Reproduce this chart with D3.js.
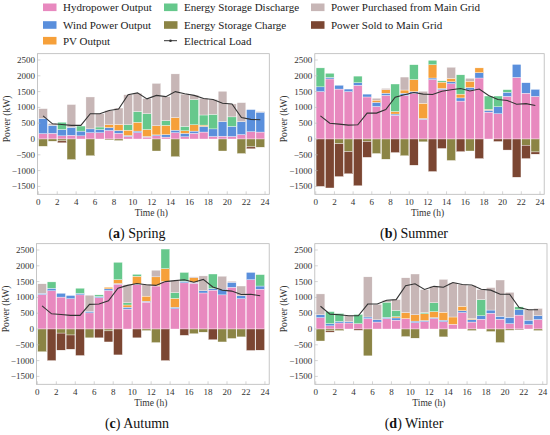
<!DOCTYPE html>
<html><head><meta charset="utf-8">
<script src="https://cdn.jsdelivr.net/npm/d3@7"></script>
<style>body{margin:0;background:#fff}svg{display:block}text{font-family:"Liberation Serif","Times New Roman",serif}</style>
</head><body>
<svg id="c" width="550" height="435"></svg>
<script>
const hours = d3.range(24);
const xTicks = d3.range(0, 25, 2);
const yTicks = [-1500, -1000, -500, 0, 500, 1000, 1500, 2000, 2500];
const seriesNames = ["Hydropower Output","Wind Power Output","PV Output","Energy Storage Discharge","Energy Storage Charge","Electrical Load","Power Purchased from Main Grid","Power Sold to Main Grid"];

// Spring
const springHydro = [170,180,100,120,100,200,200,270,180,80,200,60,100,60,200,70,180,220,80,90,80,140,230,220];
const springWind  = [480,250,200,250,150,120,100,90,90,30,50,20,30,80,80,110,70,180,240,460,320,410,700,630];
const springPV    = [0,0,0,0,0,0,0,90,190,170,280,220,290,290,400,80,200,40,0,0,0,0,0,0];
const springDis   = [0,0,230,0,160,0,80,0,0,170,340,500,0,150,0,140,800,320,460,0,300,0,0,0];
const springBuy   = [310,60,0,720,0,1010,420,450,520,950,580,480,1340,760,1380,1020,140,530,470,960,410,600,0,20];
const springCharge= [-230,-70,-60,-650,0,-530,0,-30,-50,0,0,0,-380,0,-560,0,0,0,0,-380,0,-460,-250,-260];
const springSold  = [0,0,-60,0,0,0,0,0,0,0,0,0,0,0,0,0,0,0,0,0,0,0,-60,0];
const springLoad  = [730,480,460,430,430,800,800,900,950,1400,1460,1270,1380,1340,1500,1430,1380,1280,1250,1130,1110,680,620,610];

// Summer
const summerHydro = [1500,1900,1580,1500,1700,1330,1030,1380,750,1380,1450,620,1880,1560,1750,1200,1550,1930,850,800,1350,1950,1450,1350];
const summerWind  = [150,50,120,80,80,90,130,70,40,70,50,30,50,40,60,100,80,170,60,220,130,410,330,220];
const summerPV    = [0,0,0,0,0,0,70,110,80,100,380,480,420,200,110,120,200,150,30,0,0,0,0,0];
const summerDis   = [600,130,0,0,210,0,0,0,870,0,470,0,140,40,0,610,0,0,420,340,80,0,0,0];
const summerBuy   = [0,0,0,0,0,0,60,40,0,410,0,380,0,0,350,0,90,0,0,0,0,0,0,0];
const summerCharge= [0,0,-150,-400,0,-80,-460,-640,0,-530,0,-90,0,0,-680,0,-380,0,0,0,0,0,-200,-410];
const summerSold  = [-1500,-1550,-1040,-700,-1480,-500,0,0,-430,0,-830,0,-1030,-300,0,-400,0,-620,0,-80,-350,-1210,-420,-70];
const summerLoad  = [730,500,470,440,450,820,820,930,1320,1400,1470,1420,1410,1510,1560,1600,1520,1580,1380,1250,1220,1100,1120,1060];

// Autumn
const autumnHydro = [1090,1210,1010,960,1080,510,990,1220,1420,630,1400,850,1360,1490,640,1460,1450,1140,1230,1080,1320,960,1560,1260];
const autumnWind  = [40,80,120,100,50,50,40,50,20,60,20,30,10,10,50,50,30,70,50,180,160,90,230,100];
const autumnPV    = [0,0,0,0,0,0,0,50,120,70,250,160,280,410,280,0,140,0,0,0,0,0,0,0];
const autumnDis   = [0,200,0,0,160,0,50,0,550,70,60,0,0,620,180,280,0,0,460,0,0,0,0,360];
const autumnBuy   = [300,0,0,0,0,510,0,0,0,570,0,380,210,0,380,0,30,470,0,410,30,310,0,0];
const autumnCharge= [-720,0,-130,-190,0,-280,0,-60,0,0,0,-50,-430,0,0,0,-150,-100,0,-410,-300,-250,0,0];
const autumnSold  = [0,-1000,-540,-450,-840,0,-280,-350,-820,0,-280,0,0,-1000,0,-200,0,0,-340,0,0,0,-680,-670];
const autumnLoad  = [730,480,460,430,430,780,790,890,1290,1380,1440,1400,1380,1500,1530,1560,1480,1570,1330,1230,1200,1090,1100,1050];

// Winter
const winterHydro = [360,100,190,190,170,330,220,330,280,330,200,230,330,230,150,520,220,310,500,310,170,440,140,300];
const winterWind  = [90,70,50,40,0,50,70,40,70,0,50,40,30,50,0,60,80,110,100,90,200,170,140,120];
const winterPV    = [0,0,0,0,0,0,0,0,40,190,200,210,190,250,230,140,30,0,0,0,0,0,0,0];
const winterDis   = [0,380,250,0,290,0,0,480,200,0,0,40,280,0,0,0,0,510,0,0,0,90,0,0];
const winterBuy   = [660,0,0,190,0,1270,490,60,340,1100,1290,730,520,1040,1080,690,1050,320,710,1150,790,0,330,230];
const winterCharge= [-380,-60,-50,0,0,-850,0,0,0,-240,-290,0,0,-250,0,0,-50,0,-80,-430,-40,0,0,-50];
const winterSold  = [0,-40,0,0,-40,0,0,0,0,0,0,0,0,0,0,0,0,0,0,0,0,-20,0,0];
const winterLoad  = [720,470,450,420,420,790,790,910,930,1370,1430,1250,1350,1320,1470,1410,1390,1260,1230,1100,1100,680,610,610];

const colors = {hydro:"#e889bf", wind:"#5a8fdc", pv:"#f6a03a", dis:"#66c88c", charge:"#8b8445", buy:"#c7b6b6", sold:"#7b4632", load:"#333333"};
const keys = ["hydro","wind","pv","dis","buy","charge","sold"];

const panels = [
  {cap:"a", name:"Spring", d:[springHydro,springWind,springPV,springDis,springBuy,springCharge,springSold], load:springLoad, xl:37.4, xr:269.3, y0:139, capX:137},
  {cap:"b", name:"Summer", d:[summerHydro,summerWind,summerPV,summerDis,summerBuy,summerCharge,summerSold], load:summerLoad, xl:314.8, xr:544.2, y0:139, capX:414},
  {cap:"c", name:"Autumn", d:[autumnHydro,autumnWind,autumnPV,autumnDis,autumnBuy,autumnCharge,autumnSold], load:autumnLoad, xl:36.4, xr:269.2, y0:329, capX:137},
  {cap:"d", name:"Winter", d:[winterHydro,winterWind,winterPV,winterDis,winterBuy,winterCharge,winterSold], load:winterLoad, xl:314.8, xr:547, y0:329, capX:414}
];

const svg = d3.select("#c");
const pxPerK = 31.6;

panels.forEach(p => {
  const x = d3.scaleLinear().domain([-0.1, 24.45]).range([p.xl, p.xr]);
  const top = p.y0 - 2.7 * pxPerK, bot = p.y0 + 1.75 * pxPerK;
  const y = d3.scaleLinear().domain([-1750, 2700]).range([bot, top]);
  const g = svg.append("g");
  const rows = hours.map(h => { const o = {h}; keys.forEach((k, i) => o[k] = p.d[i][h]); return o; });
  const stack = d3.stack().keys(keys).offset(d3.stackOffsetDiverging)(rows);
  const bw = x(1) - x(0);
  stack.forEach(layer => {
    g.append("g").selectAll("rect").data(layer.filter(s => s[1] !== s[0])).join("rect")
      .attr("x", s => x(s.data.h) + 0.35)
      .attr("width", bw - 0.7)
      .attr("y", s => y(Math.max(s[0], s[1])))
      .attr("height", s => Math.abs(y(s[0]) - y(s[1])))
      .attr("fill", colors[layer.key])
      .attr("stroke", "#fff").attr("stroke-width", 0.35);
  });
  g.append("rect").attr("x", p.xl).attr("y", top).attr("width", p.xr - p.xl).attr("height", bot - top)
    .attr("fill", "none").attr("stroke", "#b8b8b8").attr("stroke-width", 0.8);
  yTicks.forEach(t => {
    g.append("line").attr("x1", p.xl).attr("x2", p.xl + 3).attr("y1", y(t)).attr("y2", y(t)).attr("stroke", "#b8b8b8").attr("stroke-width", 0.6);
    g.append("text").attr("x", p.xl - 2.5).attr("y", y(t) + 3).attr("text-anchor", "end")
      .attr("font-size", 9).attr("fill", "#333")
      .text(t < 0 ? "\u2212" + Math.abs(t) : t);
  });
  xTicks.forEach(t => {
    g.append("line").attr("x1", x(t)).attr("x2", x(t)).attr("y1", bot).attr("y2", bot - 3).attr("stroke", "#b8b8b8").attr("stroke-width", 0.6);
    g.append("text").attr("x", x(t)).attr("y", bot + 10.5).attr("text-anchor", "middle")
      .attr("font-size", 9).attr("fill", "#333").text(t);
  });
  const line = d3.line().x((v, i) => x(i + 0.5)).y(v => y(v));
  g.append("path").attr("d", line(p.load)).attr("fill", "none").attr("stroke", colors.load).attr("stroke-width", 1.1);
  g.append("text").attr("x", (p.xl + p.xr) / 2 - 2).attr("y", bot + 21.5).attr("text-anchor", "middle")
    .attr("font-size", 9.5).attr("fill", "#333").text("Time (h)");
  const ly = (top + bot) / 2 - 5;
  const lx = p.xl - 27.5;
  g.append("text").attr("transform", `translate(${lx},${ly}) rotate(-90)`).attr("text-anchor", "middle")
    .attr("font-size", 9.5).attr("fill", "#333").text("Power (kW)");
  const cap = g.append("text").attr("x", p.capX).attr("y", bot + 44).attr("text-anchor", "middle")
    .attr("font-size", 14).attr("fill", "#111");
  cap.append("tspan").text("(");
  cap.append("tspan").attr("font-weight", "bold").text(p.cap);
  cap.append("tspan").text(") " + p.name);
});

const legendItems = [
  {n:seriesNames[0], c:colors.hydro, x:43, y:7.3},
  {n:seriesNames[1], c:colors.wind, x:43, y:25},
  {n:seriesNames[2], c:colors.pv, x:43, y:40.7},
  {n:seriesNames[3], c:colors.dis, x:164, y:7.3},
  {n:seriesNames[4], c:colors.charge, x:164, y:25},
  {n:seriesNames[5], c:colors.load, x:164, y:40.7, line:true},
  {n:seriesNames[6], c:colors.buy, x:311, y:7.3},
  {n:seriesNames[7], c:colors.sold, x:311, y:25}
];
const lg = svg.append("g");
legendItems.forEach(it => {
  if (it.line) {
    lg.append("line").attr("x1", it.x).attr("x2", it.x + 13).attr("y1", it.y).attr("y2", it.y).attr("stroke", it.c).attr("stroke-width", 1);
    lg.append("circle").attr("cx", it.x + 6.5).attr("cy", it.y).attr("r", 1.3).attr("fill", it.c);
  } else {
    lg.append("rect").attr("x", it.x).attr("y", it.y - 3.8).attr("width", 13.5).attr("height", 7.6).attr("fill", it.c);
  }
  lg.append("text").attr("x", it.x + 20).attr("y", it.y + 3.8).attr("font-size", 11).attr("fill", "#222").text(it.n);
});
</script>
</body></html>
